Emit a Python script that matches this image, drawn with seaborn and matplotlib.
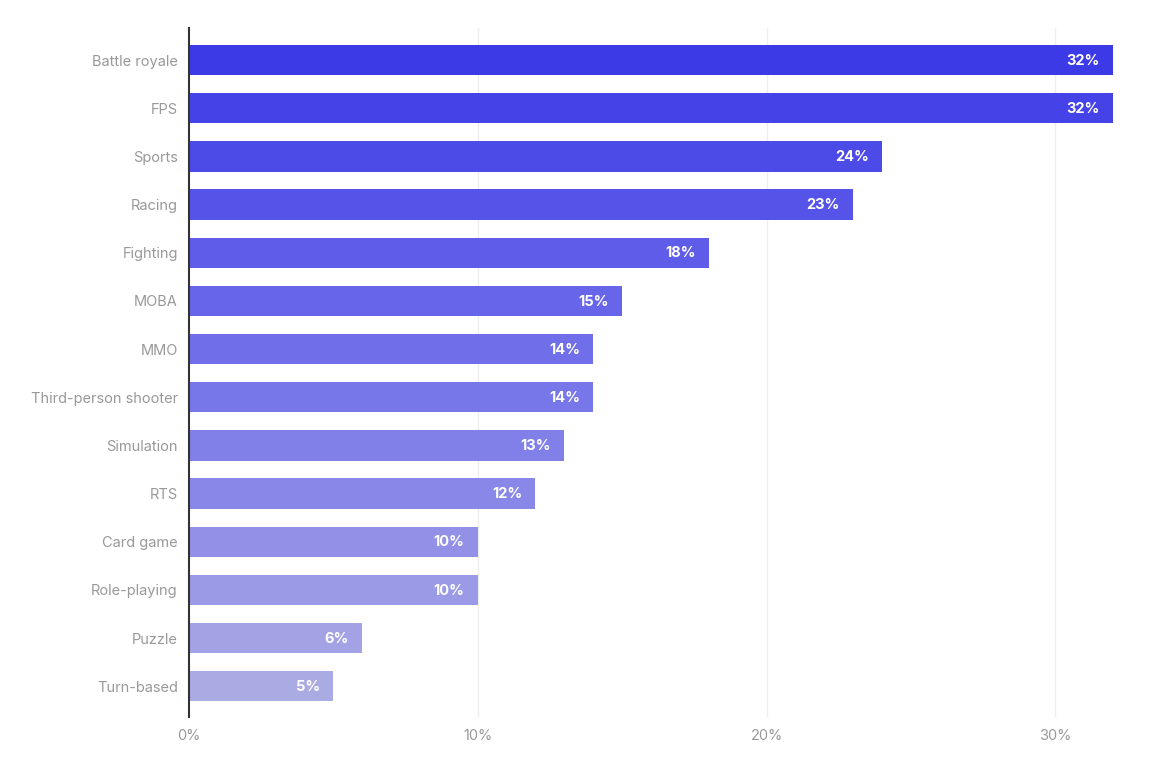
import matplotlib
matplotlib.use("Agg")
import matplotlib.pyplot as plt
import seaborn as sns
import pandas as pd
import numpy as np
from matplotlib.colors import to_rgb

categories = ["Battle royale", "FPS", "Sports", "Racing", "Fighting", "MOBA", "MMO",
              "Third-person shooter", "Simulation", "RTS", "Card game", "Role-playing",
              "Puzzle", "Turn-based"]
values = [32, 32, 24, 23, 18, 15, 14, 14, 13, 12, 10, 10, 6, 5]
tick_values = [0, 10, 20, 30]
tick_labels = ["0%", "10%", "20%", "30%"]

sns.set_theme(style="white")
plt.rcParams["font.family"] = ["Inter", "DejaVu Sans"]

df = pd.DataFrame({"category": categories, "value": values})

base = np.array(to_rgb("#3c39e6"))
white = np.array([1.0, 1.0, 1.0])
grey_end = np.array(to_rgb("#ababe3"))
n = len(categories)
palette = []
for i in range(n):
    t = i / (n - 1)
    a = 1.0 - 0.58 * t
    c = base * a + white * (1 - a)
    g = t ** 2
    end_blend = base * 0.42 + white * 0.58
    c = c + g * (grey_end - end_blend)
    palette.append(tuple(np.clip(c, 0, 1)))

fig = plt.figure(figsize=(11.7, 7.6), dpi=100)
ax = fig.add_axes([0.1615, 0.0566, 0.976 - 0.1615, 0.963 - 0.0566])

sns.barplot(data=df, x="value", y="category", hue="category", palette=palette,
            legend=False, width=0.63, ax=ax, saturation=1, edgecolor="none")

ax.set_xlim(0, 33)
ax.set_ylim(13.64, -0.665)
ax.set_xticks(tick_values)
ax.set_xticklabels(tick_labels)
ax.set_xlabel("")
ax.set_ylabel("")
for x in tick_values[1:]:
    ax.axvline(x, color="#eeeeee", lw=1, zorder=0)

for s in ["top", "right", "bottom"]:
    ax.spines[s].set_visible(False)
ax.spines["left"].set_color("#333333")
ax.spines["left"].set_linewidth(1.5)
ax.spines["left"].set_zorder(5)

ax.tick_params(axis="both", length=0, labelsize=10.5, labelcolor="#999999")
ax.tick_params(axis="y", pad=8)
ax.tick_params(axis="x", pad=9)

for i, v in enumerate(values):
    ax.annotate(f"{v}%", xy=(v, i), xytext=(-9.5, -0.5), textcoords="offset points",
                ha="right", va="center", color="white", fontsize=10.5,
                fontweight="bold")

fig.savefig("out.png", dpi=100, facecolor="white")
